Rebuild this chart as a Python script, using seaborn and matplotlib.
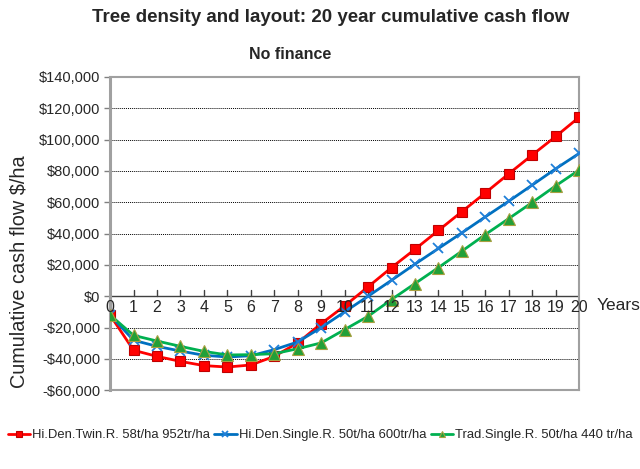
import matplotlib
matplotlib.use("Agg")

import numpy as np
import pandas as pd
import matplotlib.pyplot as plt
import seaborn as sns
from matplotlib.ticker import FuncFormatter

# ── Data ─────────────────────────────────────────────────────────────────────
years = list(range(21))
twin_952 = [-12000, -34500, -38400, -41600, -44300, -45200, -43900, -38400, -29800, -17500,
            -6200, 6000, 18300, 30000, 42000, 54000, 66000, 78200, 90200, 102000, 114300]
single_600 = [-12000, -28100, -32000, -35000, -37700, -38800, -38000, -34100, -29200, -20000,
              -10000, 0, 10200, 20500, 30500, 40500, 50700, 60700, 71000, 81400, 91200]
trad_440 = [-12000, -25000, -28600, -32000, -35200, -37500, -37300, -36700, -33500, -29800,
            -21300, -12800, -2100, 8100, 18300, 28800, 39400, 49600, 59900, 70500, 80600]

series_names = ["Hi.Den.Twin.R. 58t/ha 952tr/ha",
                "Hi.Den.Single.R. 50t/ha 600tr/ha",
                "Trad.Single.R. 50t/ha 440 tr/ha"]
series_values = [twin_952, single_600, trad_440]
colors = ["#FF0000", "#0070C0", "#00B050"]

# ── Figure ───────────────────────────────────────────────────────────────────
sns.set_style("white")
plt.rcParams["font.family"] = ["Liberation Sans", "DejaVu Sans"]

fig = plt.figure(figsize=(6.4, 4.69), dpi=100)
ax = fig.add_axes([0.172, 0.168, 0.733, 0.668])

marker_styles = [dict(marker="s", markerfacecolor="#FF0000", markeredgecolor="#C00000",
                      markersize=7.5, markeredgewidth=0.8),
                 dict(marker="x", markeredgecolor="#1F7FD8", markersize=7, markeredgewidth=1.3),
                 dict(marker="^", markerfacecolor="#22A038", markeredgecolor="#A8A040",
                      markersize=8, markeredgewidth=0.8)]

for name, vals, col, ms in zip(series_names, series_values, colors, marker_styles):
    sns.lineplot(x=years, y=vals, color=col, linewidth=2, label=name, ax=ax, zorder=3, **ms)

ax.set_xlim(0, 20)
ax.set_ylim(-60000, 140000)
ax.set_yticks(np.arange(-60000, 140001, 20000))
ax.yaxis.set_major_formatter(FuncFormatter(
    lambda v, p: f"${v:,.0f}" if v >= 0 else f"-${-v:,.0f}"))
ax.tick_params(axis="y", labelsize=10.5, length=4, width=1, color="#808080",
               pad=3, left=True)

# horizontal dotted gridlines
for v in np.arange(-40000, 140000, 20000):
    if v != 0:
        ax.axhline(v, color="black", lw=0.7, ls=(0, (1, 1)), zorder=0)

# x axis drawn at zero, ticks pointing up
ax.axhline(0, color="#404040", lw=1, zorder=1)
ax.set_xticks(years)
ax.tick_params(axis="x", length=0, labelbottom=False)
for yr in years:
    ax.plot([yr, yr], [0, 4200], color="#404040", lw=1, zorder=1)
    ax.text(yr, -2300, str(yr), ha="center", va="top", fontsize=11.5)
ax.text(20.75, -1000, "Years", ha="left", va="top", fontsize=12.5)

for side in ["left", "right", "top", "bottom"]:
    ax.spines[side].set_color("#A0A0A0")
    ax.spines[side].set_linewidth(1.5)
ax.spines["left"].set_linewidth(2.2)

ax.set_xlabel("")
ax.set_ylabel("")
fig.text(0.03, 0.42, "Cumulative cash flow $/ha", rotation=90,
         ha="center", va="center", fontsize=14.3)

fig.text(0.516, 0.962, "Tree density and layout: 20 year cumulative cash flow",
         ha="center", va="center", fontsize=13.5, fontweight="bold")
fig.text(0.453, 0.883, "No finance", ha="center", va="center",
         fontsize=11.5, fontweight="bold")

handles, labels = ax.get_legend_handles_labels()
ax.legend(handles, labels, loc="center", bbox_to_anchor=(0.5, 0.072),
          bbox_transform=fig.transFigure, ncol=3, frameon=False, fontsize=9.4,
          handlelength=1.7, handletextpad=0.15, columnspacing=0.35, markerscale=0.6)

fig.savefig("out.png", dpi=100)
